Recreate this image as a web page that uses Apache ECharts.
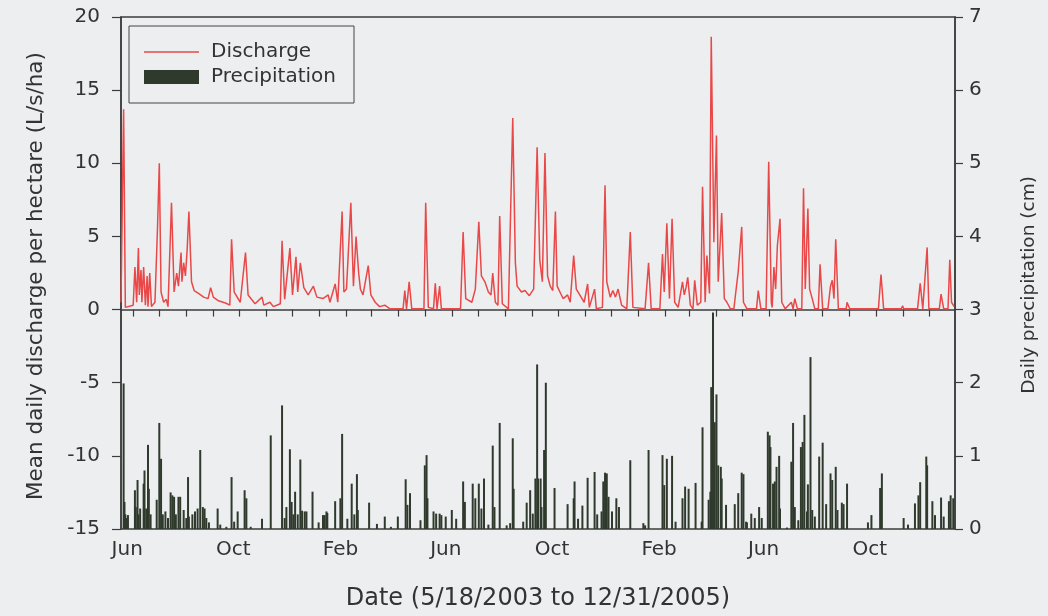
<!DOCTYPE html>
<html>
<head>
<meta charset="utf-8">
<script src="https://cdn.jsdelivr.net/npm/echarts@6/dist/echarts.min.js"></script>
<style>
  html, body { margin: 0; padding: 0; background: #eceef0; }
  #chart { width: 1048px; height: 616px; }
</style>
</head>
<body>
<div id="chart"></div>
<script>
// ---- Data (day index counted from 5/18/2003) ----
const startDate = [2003, 4, 18];   // 18 May 2003
const totalDays = 958;             // through 31 Dec 2005

const dischargeDay = [
  0, 3, 5, 14, 16, 18, 20, 21, 23, 24, 26, 28, 30, 31, 33, 35, 39, 42, 44, 46, 49, 52, 54, 58, 61, 64, 66, 69, 70, 72, 74, 76, 78, 81, 84, 89, 95, 100, 103, 106, 112, 120, 125, 127, 130, 137, 143, 146, 154, 162, 164, 171, 175, 183, 185, 188, 194, 197, 201, 203, 206, 210, 215, 221, 225, 232, 238,
  240, 246, 249, 254, 256, 259, 264, 267, 270, 273, 275, 278, 284, 287, 292, 297, 303, 309, 324, 326, 328, 331, 334, 348, 350, 353, 359, 361, 363, 366, 368, 390, 393, 396, 403, 407, 411, 414, 418, 422, 425, 427, 430, 433, 435, 438, 445, 450, 453, 455, 460, 464, 469, 474,
  478, 481, 484, 487, 490, 493, 496, 499, 501, 505, 508, 513, 516, 520, 523, 527, 532, 536, 538, 544, 546, 553, 556, 558, 562, 565, 568, 571, 575, 581, 585, 588, 602, 606, 609, 619, 622, 624, 627, 630, 633, 636, 640, 645, 647, 649, 651, 654, 657, 659, 662, 666, 668, 671, 673, 676, 678, 681, 684, 686, 690, 693, 696, 700, 704, 706, 709, 713, 715, 719,
  730, 732, 735, 741, 744, 747, 748, 750, 752, 754, 757, 759, 763, 770, 772, 774, 777, 782, 784, 786, 789, 791, 794, 797, 801, 803, 806, 812, 815, 817, 819, 821, 824, 833, 834, 837, 870, 873, 876, 896, 898, 899, 915, 918, 921, 923, 926, 928, 940, 942, 945, 950, 952, 954, 956, 957
];
const dischargeValue = [
  0.5, 13.7, 0.15, 0.3, 2.9, 0.5, 4.2, 1.0, 2.7, 0.5, 2.9, 0.3, 2.3, 0.2, 2.5, 0.2, 0.5, 5.7, 10.0, 1.2, 0.5, 0.7, 0.2, 7.3, 1.2, 2.5, 1.6, 3.9, 1.9, 3.2, 2.3, 4.1, 6.7, 1.9, 1.3, 1.1, 0.85, 0.75, 1.5, 0.85, 0.6, 0.45, 0.3, 4.8, 1.2, 0.5, 3.9, 1.0, 0.4, 0.85, 0.3, 0.5, 0.2, 0.4, 4.7, 0.7, 4.2, 1.0, 3.6, 1.2, 3.2, 1.5, 1.0, 1.6, 0.85, 0.75, 1.0,
  0.5, 1.75, 0.5, 6.7, 1.2, 1.4, 7.3, 1.6, 5.0, 2.5, 1.4, 1.0, 3.0, 1.0, 0.5, 0.2, 0.3, 0.05, 0.05, 1.3, 0.05, 1.9, 0.05, 0.05, 7.3, 0.15, 0.05, 1.8, 0.05, 1.6, 0.05, 0.05, 5.3, 0.75, 0.5, 1.4, 6.0, 2.3, 1.9, 1.2, 1.0, 2.5, 0.5, 0.3, 6.4, 0.4, 0.05, 13.1, 3.2, 1.6, 1.2, 1.3, 0.95, 1.4,
  11.1, 3.4, 1.9, 10.7, 2.3, 1.6, 1.3, 6.7, 1.6, 1.1, 0.75, 1.0, 0.5, 3.7, 1.4, 1.0, 0.5, 1.75, 0.15, 1.4, 0.05, 0.15, 8.5, 1.9, 0.85, 1.3, 0.85, 1.4, 0.3, 0.05, 5.3, 0.15, 0.05, 3.2, 0.05, 0.05, 3.8, 1.2, 5.9, 0.75, 6.2, 0.5, 0.15, 1.9, 1.0, 1.5, 2.2, 0.3, 0.05, 2.0, 0.3, 0.5, 8.4, 0.5, 3.7, 1.1, 18.65, 4.6, 11.9, 1.9, 6.6, 0.75, 0.5, 0.05, 0.05, 1.1, 2.6, 5.65, 0.5, 0.05,
  0.05, 1.3, 0.05, 0.05, 10.1, 0.5, 0.15, 2.9, 1.4, 4.4, 6.2, 0.5, 0.05, 0.5, 0.05, 0.75, 0.05, 0.05, 8.3, 1.4, 6.9, 1.4, 0.75, 0.05, 0.05, 3.1, 0.05, 0.05, 1.6, 2.0, 0.75, 4.8, 0.05, 0.05, 0.5, 0.05, 0.05, 2.4, 0.05, 0.05, 0.25, 0.05, 0.05, 1.8, 0.05, 0.05, 4.25, 0.05, 0.05, 1.05, 0.05, 0.05, 3.4, 0.5, 0.3, 0.2
];

const precipDay = [
  3, 4, 5, 6, 8, 16, 17, 19, 20, 22, 26, 27, 29, 31, 32, 34, 41, 44, 46, 48, 51, 54, 57, 59, 61, 63, 66, 68, 72, 75, 77, 78, 82, 85, 88, 91, 94, 96, 98, 101, 111, 114, 121, 127, 130, 134, 142, 144, 149, 162, 172, 185, 188, 190, 194, 196, 198, 200, 203, 206, 208, 211, 213, 220, 227, 232, 234, 236, 237,
  246, 252, 254, 260, 265, 268, 271, 272, 285, 294, 303, 310, 318, 327, 329, 332, 344, 349, 351, 352, 359, 362, 366, 368, 373, 380, 385, 393, 395, 404, 407, 411, 414, 417, 422, 427, 429, 435, 443, 447, 450, 451, 462, 466, 470, 473, 476, 478, 479, 482, 483, 486, 488,
  498, 513, 520, 521, 525, 530, 536, 544, 547, 552, 554, 556, 558, 560, 564, 569, 572, 585, 600, 602, 606, 622, 624, 627, 633, 637, 645, 648, 652, 660, 667, 668, 675, 677, 678, 680, 682, 684, 686, 689, 690, 695, 705, 709, 713, 715, 718,
  719, 724, 728, 733, 736, 743, 745, 746, 749, 751, 753, 756, 757, 765, 770, 772, 774, 778, 781, 783, 785, 788, 789, 792, 794, 797, 802, 806, 810, 815, 817, 821, 823, 828, 830, 834, 858, 862, 872, 874, 899, 904, 912, 916, 918, 925, 926, 932, 935, 942, 945, 951, 953, 956
];
const precipValue = [
  1.99, 0.37, 0.2, 0.15, 0.19, 0.53, 0.3, 0.67, 0.2, 0.28, 0.62, 0.8, 0.28, 1.15, 0.55, 0.2, 0.4, 1.45, 0.96, 0.2, 0.24, 0.15, 0.5, 0.46, 0.44, 0.2, 0.44, 0.44, 0.26, 0.15, 0.71, 0.17, 0.2, 0.24, 0.28, 1.08, 0.3, 0.28, 0.15, 0.09, 0.28, 0.06, 0.03, 0.71, 0.1, 0.24, 0.53, 0.42, 0.03, 0.14, 1.28, 1.69, 0.15, 0.3, 1.09, 0.37, 0.2, 0.51, 0.2, 0.95, 0.25, 0.24, 0.24, 0.51, 0.09, 0.19, 0.19, 0.24, 0.22,
  0.38, 0.42, 1.3, 0.14, 0.62, 0.2, 0.75, 0.26, 0.36, 0.07, 0.17, 0.03, 0.17, 0.68, 0.33, 0.49, 0.12, 0.87, 1.01, 0.42, 0.24, 0.21, 0.21, 0.19, 0.17, 0.26, 0.14, 0.65, 0.37, 0.62, 0.42, 0.62, 0.28, 0.69, 0.06, 1.14, 0.3, 1.45, 0.05, 0.08, 1.24, 0.55, 0.1, 0.36, 0.53, 0.21, 0.69, 2.25, 0.69, 0.69, 0.3, 1.08, 2.0,
  0.56, 0.34, 0.42, 0.65, 0.14, 0.32, 0.7, 0.78, 0.2, 0.24, 0.65, 0.77, 0.76, 0.44, 0.24, 0.42, 0.3, 0.94, 0.08, 0.05, 1.08, 1.01, 0.6, 0.96, 1.0, 0.1, 0.42, 0.58, 0.55, 0.63, 0.1, 1.39, 0.4, 0.51, 1.94, 2.96, 1.46, 1.84, 0.87, 0.85, 0.69, 0.33, 0.34, 0.49, 0.77, 0.75, 0.1,
  0.09, 0.21, 0.15, 0.3, 0.15, 1.33, 1.28, 1.12, 0.62, 0.65, 0.85, 1.0, 0.28, 0.02, 0.92, 1.45, 0.3, 0.12, 1.12, 1.19, 1.56, 0.24, 0.61, 2.35, 0.26, 0.17, 0.99, 1.18, 0.34, 0.76, 0.67, 0.85, 0.26, 0.36, 0.34, 0.62, 0.09, 0.19, 0.56, 0.76, 0.15, 0.06, 0.35, 0.46, 0.64, 0.99, 0.87, 0.38, 0.19, 0.43, 0.17, 0.38, 0.46, 0.42
];

// Axis ticks / labels
const tickLabels = ['Jun', 'Oct', 'Feb', 'Jun', 'Oct', 'Feb', 'Jun', 'Oct'];
const labelMonths = [[2003, 5], [2003, 9], [2004, 1], [2004, 5], [2004, 9], [2005, 1], [2005, 5], [2005, 9]];
const leftTicks = { min: -15, max: 20, interval: 5 };
const rightTicks = { min: 0, max: 7, interval: 1 };

// ---- Build ----
const DAY = 86400000;
const t0 = new Date(startDate[0], startDate[1], startDate[2]).getTime();
const tEnd = t0 + totalDays * DAY;
const toTime = d => t0 + d * DAY;

const dischargeData = dischargeDay.map((d, i) => [toTime(d), dischargeValue[i]]);
const precipData = precipDay.map((d, i) => [toTime(d), precipValue[i]]);

// Month-start tick marks
const monthTicks = [];
for (let y = 2003, m = 5; y < 2006; ) {
  monthTicks.push(new Date(y, m, 1).getTime());
  m++; if (m > 11) { m = 0; y++; }
}
const labelTimes = labelMonths.map(([y, m]) => new Date(y, m, 1).getTime());

const FONT = 'DejaVu Sans';
const TXT = '#333333';
const AX = '#3c3c3c';

const chart = echarts.init(document.getElementById('chart'), null, { renderer: 'canvas' });
chart.setOption({
  animation: false,
  backgroundColor: '#eceef0',
  grid: {
    left: 121, right: 93, top: 17, bottom: 85,
    show: true, borderColor: AX, borderWidth: 1.5, backgroundColor: 'transparent'
  },
  legend: {
    left: 129, top: 26,
    orient: 'vertical',
    padding: [16, 18, 16, 15],
    itemWidth: 55, itemHeight: 14, itemGap: 5,
    borderColor: '#444', borderWidth: 1,
    symbolKeepAspect: true,
    textStyle: { fontFamily: FONT, fontSize: 20, color: TXT, lineHeight: 20, padding: [0, 0, 0, 7] },
    data: [
      { name: 'Discharge', icon: 'path://M0,0L55,0L55,1.6L0,1.6Z' },
      { name: 'Precipitation', icon: 'rect' }
    ]
  },
  xAxis: {
    type: 'value',
    min: t0, max: tEnd,
    name: 'Date (5/18/2003 to 12/31/2005)',
    nameLocation: 'middle', nameGap: 58,
    nameTextStyle: { fontFamily: FONT, fontSize: 24, color: TXT },
    axisLine: { show: true, lineStyle: { color: AX, width: 1.5 } },
    axisTick: { show: true, length: 7, lineStyle: { color: AX, width: 1.2 }, customValues: monthTicks },
    axisLabel: {
      fontFamily: FONT, fontSize: 20, color: TXT, margin: 11,
      padding: [0, 12, 0, 0],
      customValues: labelTimes,
      formatter: v => { const i = labelTimes.indexOf(v); return i >= 0 ? tickLabels[i] : ''; }
    },
    splitLine: { show: false }
  },
  yAxis: [
    {
      type: 'value', position: 'left',
      min: leftTicks.min, max: leftTicks.max, interval: leftTicks.interval,
      name: 'Mean daily discharge per hectare (L/s/ha)',
      nameLocation: 'middle', nameGap: 74, nameRotate: 90,
      nameTextStyle: { fontFamily: FONT, fontSize: 21.5, color: TXT, padding: [0, 6, 0, 0] },
      axisLine: { show: true, lineStyle: { color: AX, width: 1.5 } },
      axisTick: { show: true, length: 9, lineStyle: { color: AX, width: 1.2 } },
      axisLabel: { fontFamily: FONT, fontSize: 20, color: TXT, margin: 21 },
      splitLine: { show: false }
    },
    {
      type: 'value', position: 'right',
      min: rightTicks.min, max: rightTicks.max, interval: rightTicks.interval,
      name: 'Daily precipitation (cm)',
      nameLocation: 'middle', nameGap: 65, nameRotate: 90,
      nameTextStyle: { fontFamily: FONT, fontSize: 18.5, color: TXT, padding: [0, 24, 0, 0] },
      axisLine: { show: true, lineStyle: { color: AX, width: 1.5 } },
      axisTick: { show: true, length: 8, lineStyle: { color: AX, width: 1.2 } },
      axisLabel: { fontFamily: FONT, fontSize: 20, color: TXT, margin: 14 },
      splitLine: { show: false }
    }
  ],
  series: [
    {
      name: 'Precipitation',
      type: 'bar',
      yAxisIndex: 1,
      barWidth: 2,
      itemStyle: { color: '#2f3a2d' },
      data: precipData,
      z: 2
    },
    {
      name: 'Discharge',
      type: 'line',
      yAxisIndex: 0,
      symbol: 'none',
      lineStyle: { color: '#e94848', width: 1.5 },
      itemStyle: { color: '#e94848' },
      data: dischargeData,
      z: 3
    }
  ]
});
</script>
</body>
</html>
